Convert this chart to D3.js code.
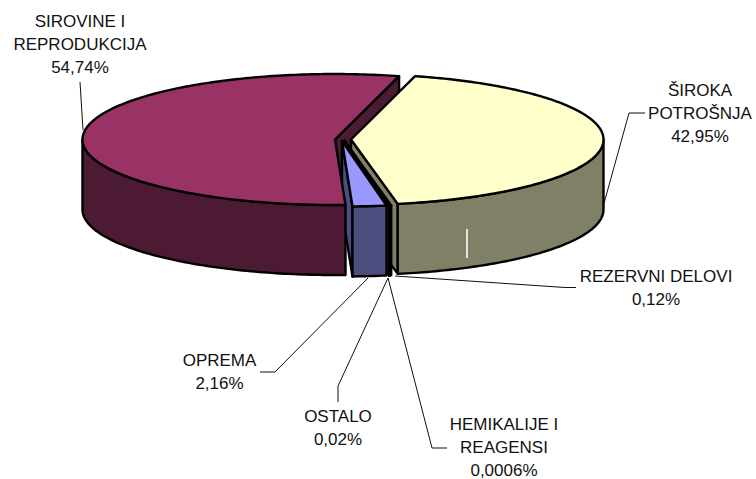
<!DOCTYPE html>
<html>
<head>
<meta charset="utf-8">
<script src="https://cdn.jsdelivr.net/npm/d3@7"></script>
<style>
  html, body { margin: 0; padding: 0; background: #fff; }
  svg { display: block; }
  text { font-family: "Liberation Sans", Arial, sans-serif; font-size: 17px; fill: #111; }
</style>
</head>
<body>
<div id="chart"></div>
<script>
// values in pie order, clockwise from the yellow slice
var categories = [['ŠIROKA', 'POTROŠNJA'], ['REZERVNI DELOVI'], ['HEMIKALIJE I', 'REAGENSI'], ['OSTALO'], ['OPREMA'], ['SIROVINE I', 'REPRODUKCIJA']];
var values = [42.95, 0.12, 0.0006, 0.02, 2.16, 54.74];
var valueLabels = ['42,95%', '0,12%', '0,0006%', '0,02%', '2,16%', '54,74%'];

var topColors = ['#ffffcc', '#ccffff', '#660066', '#ff8080', '#9999ff', '#993366'];
var sideColors = ['#808066', '#668080', '#330033', '#804040', '#4d4d80', '#4d1a33'];

// each slice is pulled out of the pie by a different amount
var centers = [[351, 139.5], [344.5, 141], [344.5, 141], [344.5, 141], [342, 141], [335, 139.5]];

var labelAnchors = [[700, 96], [656, 282], [504, 430], [338, 422], [219.5, 366], [80, 27]];
var leaders = [
  [[603, 207], [629, 113], [645, 113]],
  [[395, 276], [565, 287.5], [576, 287.5]],
  [[388, 278], [432, 448], [447, 448]],
  [[388, 278], [338, 386], [338, 402]],
  [[368, 278], [275, 372], [260, 372]],
  [[80, 82], [83, 130]]
];

var width = 756,
    height = 479,
    rx = 252.5,
    ry = 65.5,
    depth = 70,
    rad = Math.PI / 180;

var pie = d3.pie()
    .sort(null)
    .startAngle(14.7 * rad)
    .endAngle((14.7 + 360) * rad);

var slices = pie(values);

var svg = d3.select('#chart')
    .append('svg')
    .attr('width', width)
    .attr('height', height);

var line = d3.line();

function pt(c, a, dy) {
    return [c[0] + rx * Math.sin(a), c[1] - ry * Math.cos(a) + (dy || 0)];
}

function arcPoints(c, a0, a1, dy) {
    var n = Math.max(2, Math.ceil(Math.abs(a1 - a0) / rad));
    return d3.range(n + 1).map(function(k) {
        return pt(c, a0 + (a1 - a0) * k / n, dy);
    });
}

function drawPath(points, fill) {
    svg.append('path')
        .attr('d', line(points) + 'Z')
        .attr('fill', fill)
        .attr('stroke', '#000')
        .attr('stroke-width', 2.4)
        .attr('stroke-linejoin', 'round');
}

// flat cut side of a slice
function drawCut(i) {
    var c = centers[i],
        a = slices[i].endAngle;
    drawPath([c, pt(c, a), pt(c, a, depth), [c[0], c[1] + depth]], sideColors[i]);
}

// outer wall (front half of the ellipse only) and top
function drawBody(i) {
    var s = slices[i],
        c = centers[i],
        a0 = Math.max(s.startAngle, 90 * rad),
        a1 = Math.min(s.endAngle, 270 * rad);
    if (a1 > a0) {
        drawPath(arcPoints(c, a0, a1).concat(arcPoints(c, a1, a0, depth)), sideColors[i]);
    }
    drawPath([c].concat(arcPoints(c, s.startAngle, s.endAngle)), topColors[i]);
}

// the big slice's back cut goes first, its wall last so it clips the blue side
drawCut(5);
[0, 1, 2, 3, 4].forEach(function(i) {
    drawCut(i);
    drawBody(i);
});
drawBody(5);

// small white mark on the olive wall
svg.append('line')
    .attr('x1', 467).attr('x2', 467)
    .attr('y1', 229).attr('y2', 258)
    .attr('stroke', '#fff')
    .attr('stroke-width', 1.6);

leaders.forEach(function(l) {
    svg.append('path')
        .attr('d', line(l))
        .attr('fill', 'none')
        .attr('stroke', '#111')
        .attr('stroke-width', 1);
});

categories.forEach(function(names, i) {
    svg.append('text')
        .attr('text-anchor', 'middle')
        .selectAll('tspan')
        .data(names.concat(valueLabels[i]))
        .enter()
        .append('tspan')
        .attr('x', labelAnchors[i][0])
        .attr('y', function(d, k) { return labelAnchors[i][1] + k * 23; })
        .text(function(d) { return d; });
});
</script>
</body>
</html>
